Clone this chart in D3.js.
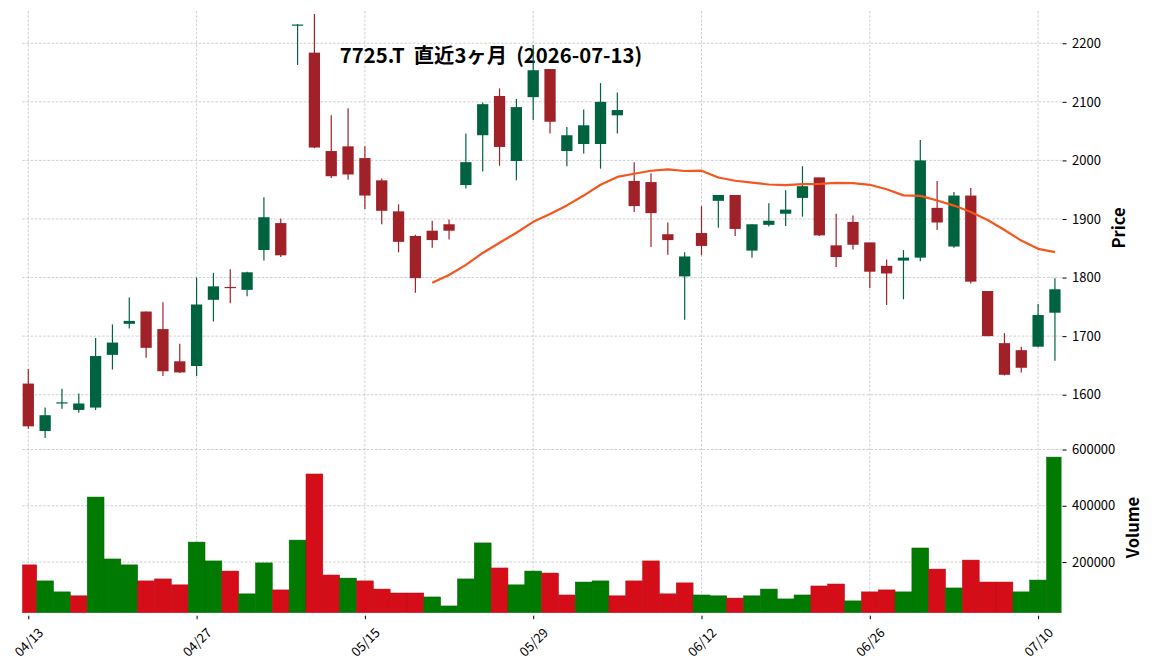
<!DOCTYPE html>
<html><head><meta charset="utf-8">
<script src="https://cdn.jsdelivr.net/npm/d3@7"></script>
<style>body{margin:0;background:#fff}svg{display:block}text{font-family:"Noto Sans CJK JP","Noto Sans",sans-serif}</style>
</head><body><svg id="c" width="1152" height="670"></svg>
<script>
const dates = ["04/13","04/14","04/15","04/16","04/17","04/20","04/21","04/22","04/23","04/24",
"04/27","04/28","04/30","05/01","05/07","05/08","05/11","05/12","05/13","05/14",
"05/15","05/18","05/19","05/20","05/21","05/22","05/25","05/26","05/27","05/28",
"05/29","06/01","06/02","06/03","06/04","06/05","06/08","06/09","06/10","06/11",
"06/12","06/15","06/16","06/17","06/18","06/19","06/22","06/23","06/24","06/25",
"06/26","06/29","06/30","07/01","07/02","07/03","07/06","07/07","07/08","07/09",
"07/10","07/13"];
const open  = [1619,1538,1585,1574,1578,1668,1721,1742,1712,1657,1649,1762,1784,1779,1847,1893,2231,2184,2016,2024,
2004,1966,1913,1871,1880,1891,1958,2043,2110,1999,2108,2156,2016,2028,2028,2077,1965,1963,1874,1802,
1876,1931,1941,1846,1890,1909,1936,1971,1855,1895,1860,1820,1829,1834,1919,1853,1940,1777,1688,1676,1682,1740];
const high  = [1644,1578,1610,1602,1697,1720,1766,1742,1758,1687,1800,1808,1814,1810,1937,1901,2233,2250,2077,2089,
2024,1969,1925,1873,1897,1899,2046,2099,2123,2105,2197,2156,2057,2087,2132,2116,1997,1978,1894,1843,
1922,1941,1941,1891,1927,1949,1990,1971,1909,1906,1860,1831,1847,2035,1965,1946,1953,1777,1705,1682,1755,1799];
const low   = [1542,1526,1576,1569,1574,1643,1713,1663,1632,1637,1632,1725,1756,1768,1829,1835,2163,2021,1970,1967,
1917,1891,1843,1774,1851,1865,1952,1981,1991,1966,2069,2046,1990,2012,1986,2046,1912,1852,1839,1728,
1838,1885,1871,1834,1887,1888,1904,1871,1818,1848,1782,1753,1763,1828,1881,1851,1790,1700,1633,1638,1681,1658];
const close = [1546,1565,1587,1585,1666,1689,1726,1680,1640,1638,1754,1785,1783,1809,1903,1838,2232,2022,1973,1976,
1940,1914,1861,1799,1864,1880,1997,2096,2023,2091,2154,2066,2043,2060,2100,2086,1922,1910,1864,1836,
1854,1941,1883,1891,1897,1916,1956,1872,1835,1856,1810,1807,1834,2000,1894,1940,1793,1700,1634,1646,1736,1780];
const volume = [190000,133000,94000,80000,431000,211000,190000,133000,140000,119000,271000,204000,168000,87000,197000,101000,278000,513000,154000,143000,
133000,104000,90000,90000,76000,44000,140000,268000,179000,119000,168000,161000,83000,129000,133000,80000,133000,204000,87000,126000,
83000,80000,72000,80000,104000,69000,83000,115000,122000,62000,94000,101000,94000,250000,175000,108000,207000,129000,129000,94000,136000,573000];
const maStart = 24;
const ma25 = [1791,1804.4,1821.6,1842,1859.5,1876.5,1895.1,1908.7,1923.2,1940,1958.5,1971.8,1977.3,1982.4,1984.6,1981.9,1982.5,1970.9,1965.3,1962,
1958.9,1957.9,1959.6,1960,1961.5,1961.2,1958.4,1950.8,1940.3,1939.4,1931.5,1922.9,1912,1898.3,1881.2,1863.1,1849.1,1843.4];
const tickIdx = [0,10,20,30,40,50,60];
const priceTicks = [1600,1700,1800,1900,2000,2100,2200];
const volTicks = [200000,400000,600000];
const title = "7725.T  直近3ヶ月  (2026-07-13)";

const svg = d3.select('#c');
const L = 22.2, R = 1061.5, PT = 11, PB = 449, VT = 449.5, VB = 612.7;
const x = d3.scaleLinear().domain([-0.362, 61.39]).range([L, R]);
const yP = d3.scaleLinear().domain([1507.3, 2255.1]).range([PB, PT]);
const yV = d3.scaleLinear().domain([20000, 600000]).range([VB, VT]);
const step = x(1) - x(0);

const UP = '#006340', DN = '#A02128', VUP = '#007a00', VDN = '#d50d18', MA = '#f4561c';
const GRID = '#c4c4c4';

svg.append('defs').append('clipPath').attr('id', 'clipx')
  .append('rect').attr('x', L).attr('y', 0).attr('width', R - L).attr('height', 670);

// grid
const g = svg.append('g');
g.selectAll('.hp').data(priceTicks).join('line')
  .attr('x1', L).attr('x2', R).attr('y1', d => yP(d)).attr('y2', d => yP(d));
g.selectAll('.hv').data(volTicks).join('line')
  .attr('x1', L).attr('x2', R).attr('y1', d => yV(d)).attr('y2', d => yV(d));
g.selectAll('.vx').data(tickIdx).join('line')
  .attr('x1', d => x(d)).attr('x2', d => x(d)).attr('y1', PT).attr('y2', VB);
g.selectAll('line').attr('stroke', GRID).attr('stroke-width', 0.8).attr('stroke-dasharray', '2.6,1.6');

// title
svg.append('text').attr('x', 491).attr('y', 63.3).attr('text-anchor', 'middle')
  .style('white-space', 'pre').attr('xml:space', 'preserve')
  .attr('font-size', 20.3).attr('font-weight', 'bold').attr('fill', '#000').text(title);

// volume
const idx = d3.range(dates.length);
const volUp = i => i === 0 ? close[0] >= open[0] : close[i] >= close[i - 1];
svg.append('g').attr('clip-path', 'url(#clipx)').selectAll('rect').data(idx).join('rect')
  .attr('x', i => x(i) - step / 2).attr('width', step)
  .attr('y', i => yV(volume[i])).attr('height', i => VB - yV(volume[i]))
  .attr('fill', i => volUp(i) ? VUP : VDN)
  .attr('stroke', i => volUp(i) ? '#006a00' : '#b80b15').attr('stroke-width', 0.5);

// candles
const bw = step * 0.67;
const cg = svg.append('g');
cg.selectAll('.w').data(idx).join('line')
  .attr('x1', i => x(i)).attr('x2', i => x(i))
  .attr('y1', i => yP(high[i])).attr('y2', i => yP(low[i]))
  .attr('stroke', i => close[i] >= open[i] ? UP : DN).attr('stroke-width', 1.2);
cg.selectAll('.b').data(idx).join('rect')
  .attr('x', i => x(i) - bw / 2).attr('width', bw)
  .attr('y', i => yP(Math.max(open[i], close[i])))
  .attr('height', i => Math.max(1.2, Math.abs(yP(open[i]) - yP(close[i]))))
  .attr('fill', i => close[i] >= open[i] ? UP : DN);

// moving average
const line = d3.line().x((d, k) => x(maStart + k)).y(d => yP(d));
svg.append('path').attr('d', line(ma25)).attr('fill', 'none')
  .attr('stroke', MA).attr('stroke-width', 2.2).attr('stroke-linejoin', 'round');

// axes
const ax = svg.append('g').attr('transform', `translate(${R + 1},0)`)
  .call(d3.axisRight(yP).tickValues(priceTicks).tickSize(4).tickPadding(5.5).tickFormat(d3.format('d')));
const av = svg.append('g').attr('transform', `translate(${R + 1},0)`)
  .call(d3.axisRight(yV).tickValues(volTicks).tickSize(4).tickPadding(5.5).tickFormat(d3.format('d')));
const axb = svg.append('g').attr('transform', `translate(0,${VB + 3})`)
  .call(d3.axisBottom(x).tickValues(tickIdx).tickSize(3.5).tickFormat(''));
[ax, av, axb].forEach(a => {
  a.select('.domain').remove();
  a.selectAll('.tick line').attr('stroke', '#000').attr('stroke-width', 1);
  a.selectAll('text').attr('font-size', 13).attr('fill', '#000')
    .attr('font-family', '"Noto Sans CJK JP","Noto Sans",sans-serif');
});
svg.append('g').selectAll('text').data(tickIdx).join('text')
  .attr('transform', d => `translate(${x(d)},641.7) rotate(-45)`)
  .attr('text-anchor', 'middle').attr('dominant-baseline', 'central')
  .attr('font-size', 13).attr('fill', '#000').text(d => dates[d]);

svg.append('text').attr('transform', 'translate(1125,228) rotate(-90)')
  .attr('text-anchor', 'middle').attr('font-size', 16.5).attr('font-weight', 'bold').text('Price');
svg.append('text').attr('transform', 'translate(1139,527.5) rotate(-90)')
  .attr('text-anchor', 'middle').attr('font-size', 16.5).attr('font-weight', 'bold').text('Volume');
</script></body></html>
